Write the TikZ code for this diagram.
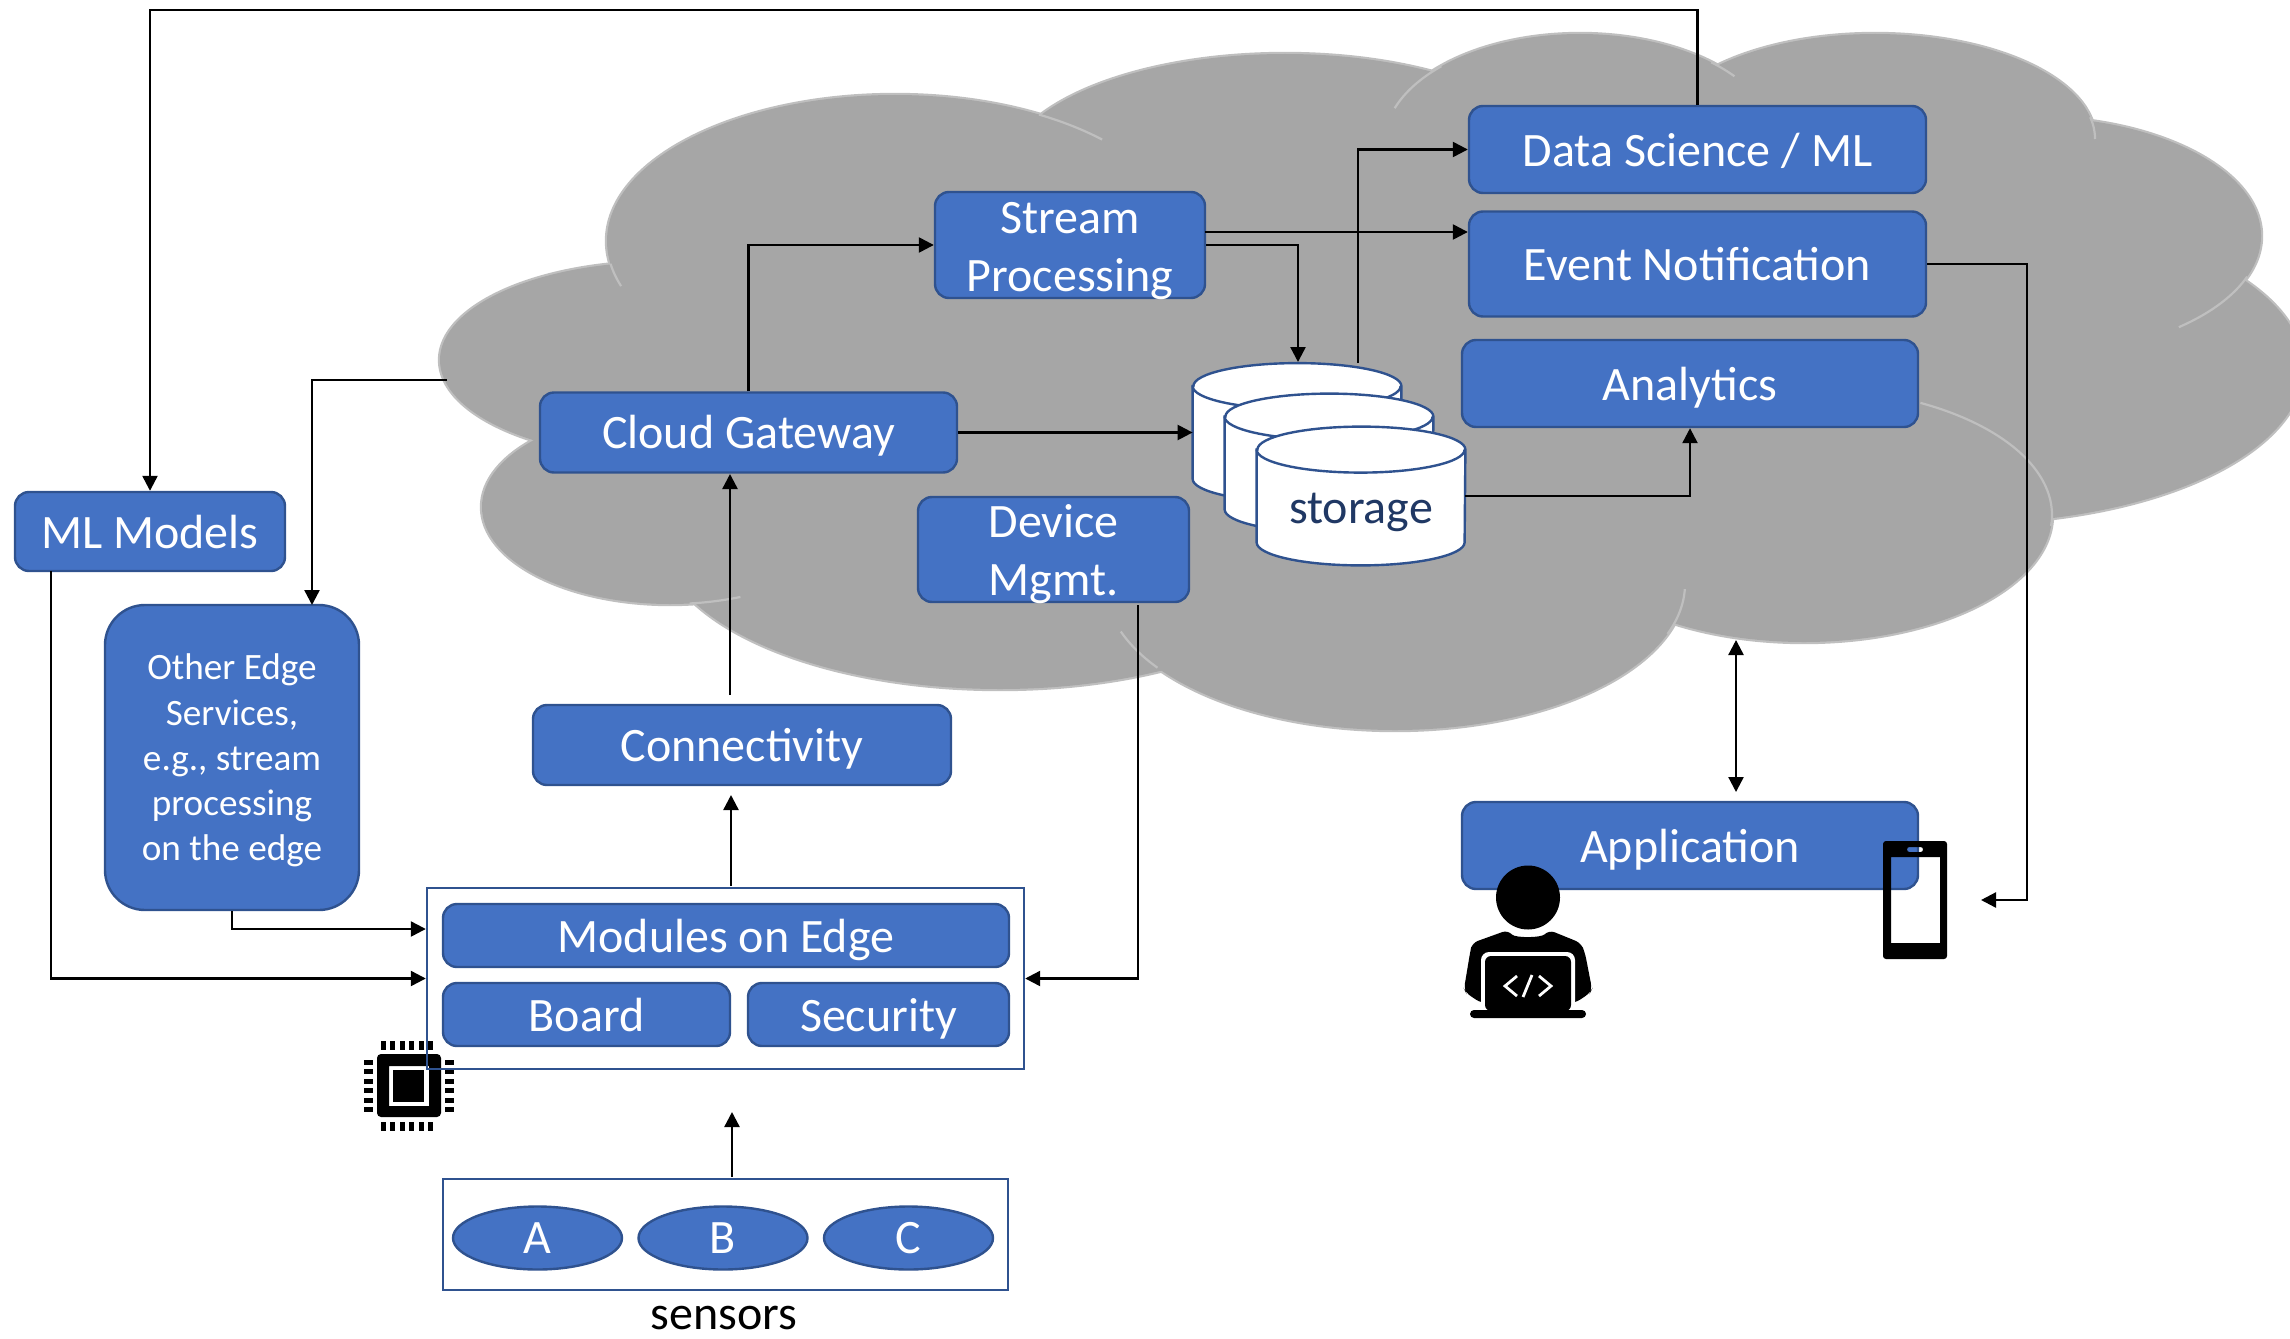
\documentclass[tikz,border=0pt]{standalone}
\usepackage{fontspec}
\setmainfont{Carlito}
\usetikzlibrary{arrows.meta,shapes.geometric}
\definecolor{bfill}{HTML}{4472C4}
\definecolor{bline}{HTML}{2F528F}
\definecolor{cloudfill}{HTML}{A6A6A6}
\definecolor{cloudline}{HTML}{BFBFBF}
\definecolor{darkink}{HTML}{203864}
\tikzset{
  wh/.style 2 args={minimum width=#1*0.5pt,minimum height=#2*0.5pt},
  blue base/.style={draw=bline,fill=bfill,line width=1.2pt,rounded corners=7pt,text=white,inner sep=0pt,align=center,font=\fontsize{24}{29}\selectfont},
  blue box/.style={blue base,text height=17.5pt,text depth=1pt},
  flat box/.style={draw=bline,line width=1.2pt,inner sep=0pt},
  oval/.style={ellipse,draw=bline,fill=bfill,line width=1.2pt,text=white,inner sep=0pt,font=\fontsize{24}{29}\selectfont,text height=16.5pt,text depth=1pt},
  drum frame/.style={inner sep=0pt,minimum width=104pt,minimum height=69pt},
  drum line/.style={draw=bline,fill=white,line width=1.2pt},
  conn/.style={draw=black,line width=1.2pt,-{Triangle[length=7.5pt,width=7.5pt]}},
  connboth/.style={draw=black,line width=1.2pt,{Triangle[length=7.5pt,width=7.5pt]}-{Triangle[length=7.5pt,width=7.5pt]}},
  seam/.style={draw=cloudline,line width=1.1pt},
}
\newcommand{\lobes}[1]{%
  \foreach \cx/\cy/\rx/\ry in {895/241/288/146,660/360/220/98,670/507/188/97,1000/535/340/154,1395/584/290/146,1804/515/248/127,1968/368/335/155,2031/236/230/119,1875/139/220/105,1580/144/196/110,1285/174/280/120}{
    \path[#1] (\cx,\cy) ellipse [x radius=\rx,y radius=\ry];
  }}
\newcommand{\seamarc}[6]{\draw[seam] plot[domain=#5:#6,samples=24,smooth] ({#1+#3*cos(\x)},{#2+#4*sin(\x)});}
\newcommand{\drumshape}[1]{%
  \path[drum line] ([yshift=-11.5pt]#1.north west) -- ([yshift=11.5pt]#1.south west)
    arc[start angle=180,end angle=360,x radius=52pt,y radius=11.5pt]
    -- ([yshift=-11.5pt]#1.north east)
    arc[start angle=0,end angle=180,x radius=52pt,y radius=11.5pt] -- cycle;
  \draw[draw=bline,line width=1.2pt] ([yshift=-11.5pt]#1.north west)
    arc[start angle=180,end angle=360,x radius=52pt,y radius=11.5pt];}
\begin{document}
\begin{tikzpicture}[x=0.5pt,y=-0.5pt]
\useasboundingbox (0,0) rectangle (2290,1338);
% cloud
\lobes{draw=cloudline,line width=2.2pt}
\lobes{fill=cloudfill}
\fill[cloudfill] (650,300)--(1100,110)--(1900,100)--(2100,300)--(1900,500)--(1600,600)--(1000,650)--(650,500)--cycle;
\seamarc{895}{241}{288}{146}{162}{171}
\seamarc{895}{241}{288}{146}{-60}{-44}
\seamarc{670}{507}{188}{97}{68}{84}
\seamarc{1395}{584}{290}{146}{145}{161}
\seamarc{1395}{584}{290}{146}{2}{20}
\seamarc{1804}{515}{248}{127}{-62}{5}
\seamarc{2031}{236}{230}{119}{20}{50}
\seamarc{1875}{139}{220}{105}{-12}{0}
\seamarc{1580}{144}{196}{110}{-161}{-135}
\seamarc{1580}{144}{196}{110}{-48}{-38}
% cloud boxes
\node[blue box,wh={457}{87}] (ds) at (1697.5,149.5) {Data Science / ML};
\node[blue box,wh={457}{105}] (event) at (1697.5,264) {Event Notification};
\node[blue box,wh={456}{87}] (analytics) at (1690,383.5) {Analytics};
\node[blue base,wh={270}{106},inner ysep=-6pt] (stream) at (1070,245) {\rule{0pt}{22pt}Stream\\Processing};
\node[blue base,wh={417}{80},text height=17pt,text depth=1pt] (cg) at (748.5,432.5) {Cloud Gateway};
\node[blue base,wh={271}{105},inner ysep=-6pt] (dm) at (1053.5,549.5) {\rule{0pt}{21pt}Device\\Mgmt.};
\node[drum frame] (cyl1) at (1297,432.5) {};
\node[drum frame] (cyl2) at (1329,463) {};
\node[drum frame] (cyl3) at (1361,496) {};
\drumshape{cyl1}
\drumshape{cyl2}
\drumshape{cyl3}
\node[text=darkink,font=\fontsize{24}{29}\selectfont,inner sep=0pt] (storage) at (1361,512) {storage};
% lower boxes
\node[blue box,wh={418}{80}] (conn) at (742,745) {Connectivity};
\node[blue box,wh={270}{79}] (ml) at (150,531.5) {ML Models};
\node[blue base,wh={254}{305},rounded corners=20pt,font=\fontsize{18.6}{22.6}\selectfont] (other) at (232,757.5) {\rule{0pt}{16pt}Other Edge\\Services,\\e.g., stream\\processing\\on the edge};
\node[blue box,wh={456}{87}] (app) at (1690,845.5) {Application};
\node[fill=white,wh={597}{181},inner sep=0pt] (edgebg) at (725.5,978.5) {};
% chip
\fill[black,rounded corners=2pt,even odd rule] (377,1054) rectangle (441,1117) (389,1066) [sharp corners] rectangle (429,1106);
\fill[black] (393,1070) rectangle (424,1102);
\foreach \p in {383,392.5,402,411.5,421,430.5}{
  \fill[black] (\p-2.5,1041) rectangle (\p+2.5,1050);
  \fill[black] (\p-2.5,1122) rectangle (\p+2.5,1131);
}
\foreach \p in {1062.5,1071.5,1081.5,1090.5,1100.5,1109.5}{
  \fill[black] (364,\p-2.5) rectangle (373,\p+2.5);
  \fill[black] (445,\p-2.5) rectangle (454,\p+2.5);
}
\node[flat box,wh={597}{181}] (edge) at (725.5,978.5) {};
\node[blue box,wh={566}{63}] (mods) at (726,935.5) {Modules on Edge};
\node[blue box,wh={287}{63}] (board) at (586.5,1014.5) {Board};
\node[blue box,wh={261}{63}] (sec) at (878.5,1014.5) {Security};
\node[flat box,wh={565}{111}] (sens) at (725.5,1234.5) {};
\node[oval,wh={169}{63}] (sa) at (537.5,1238) {A};
\node[oval,wh={169}{63}] (sb) at (723,1238) {B};
\node[oval,wh={169}{63}] (sc) at (908.5,1238) {C};
\node[font=\fontsize{24}{29}\selectfont,inner sep=0pt] (senslabel) at (724,1318) {sensors};
% developer
\fill[black] (1528,897.5) ellipse [x radius=32,y radius=32];
\fill[black,rounded corners=3pt] (1508,930) .. controls (1515,938) and (1541,938) .. (1549,930) -- (1581,943) -- (1585,953) -- (1592,989) -- (1590,993) -- (1575,1003) -- (1481,1003) -- (1466,993) -- (1464,989) -- (1470,953) -- (1472,943) -- cycle;
\fill[white,rounded corners=4pt] (1481,1011) -- (1481,952) -- (1575,952) -- (1575,1011) -- cycle;
\fill[black,rounded corners=3pt] (1485,1011) -- (1485,956) -- (1571,956) -- (1571,1011) -- cycle;
\fill[black,rounded corners=2pt] (1470,1010) -- (1586,1010) -- (1586,1018) -- (1470,1018) -- cycle;
\draw[white,line width=1.4pt] (1517,976) -- (1505,986) -- (1517,996) (1532,975) -- (1523,997) (1539,976) -- (1551,986) -- (1539,996);
% phone
\fill[black,rounded corners=1.5pt,even odd rule] (1883,841) rectangle (1947,959) (1891,857) [sharp corners] rectangle (1940,943) (1907,847) [rounded corners=1.2pt] rectangle (1923,852);
% connectors
\coordinate (dsup) at (1697.5,10);
\coordinate (mlup) at (150,10);
\draw[conn] (ds.north) -- (dsup) -- (mlup) -- (ml.north);
\draw[conn] (cg.north) |- (stream.west);
\coordinate (streamout) at (1205,232);
\draw[conn] (streamout) -- (streamout -| event.west);
\coordinate (cylin) at (1298,362);
\draw[conn] (stream.east) -| (cylin);
\coordinate (cylout) at (1358,363);
\draw[conn] (cylout) |- (ds.west);
\draw[conn] (cg.east) -- (cyl1.west);
\draw[conn] (cyl3.east) -| (analytics.south);
\coordinate (phonein) at (1981,900);
\coordinate (eventturn) at (2027,900);
\draw[conn] (event.east) -| (eventturn) -- (phonein);
\coordinate (appup) at (1736,640);
\coordinate (appdown) at (1736,792);
\draw[connboth] (appup) -- (appdown);
\coordinate (cloudleft) at (447,380);
\coordinate (otherin) at (312,605);
\draw[conn] (cloudleft) -| (otherin);
\coordinate (connup) at (730,695);
\coordinate (cgin) at (730,474);
\draw[conn] (connup) -- (cgin);
\coordinate (edgeout) at (731,886);
\coordinate (connin) at (731,795);
\draw[conn] (edgeout) -- (connin);
\coordinate (sensout) at (732,1177);
\coordinate (edgein) at (732,1112);
\draw[conn] (sensout) -- (edgein);
\coordinate (otherturn) at (232,929);
\draw[conn] (other.south) -- (otherturn) -- (otherturn -| edge.west);
\coordinate (mlout) at (51,571);
\coordinate (mlturn) at (51,978.5);
\draw[conn] (mlout) -- (mlturn) -- (edge.west);
\coordinate (dmout) at (1138,605);
\draw[conn] (dmout) |- (edge.east);
\end{tikzpicture}
\end{document}
